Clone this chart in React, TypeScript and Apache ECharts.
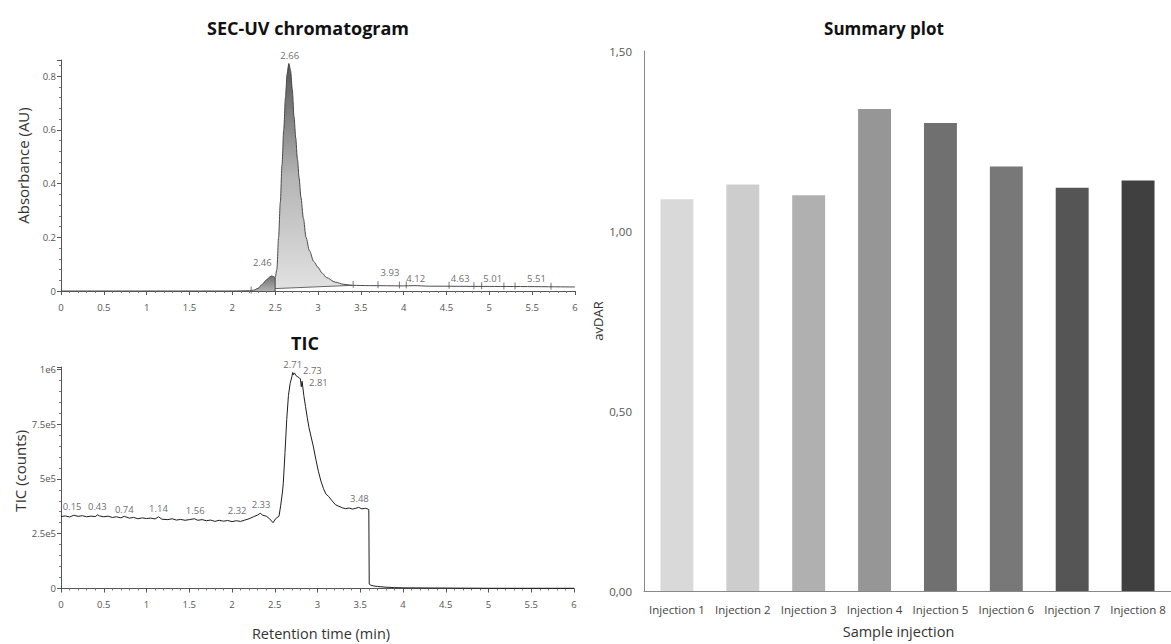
import React, { useEffect, useRef } from "react";
import * as echarts from "echarts";

// ---------- SEC-UV chromatogram ----------
const SEC_TIME = [0, 1, 2, 2.2, 2.25, 2.3, 2.35, 2.4, 2.44, 2.46, 2.48, 2.5, 2.52, 2.54, 2.56, 2.58, 2.6, 2.62, 2.64, 2.66, 2.68, 2.7, 2.72, 2.74, 2.76, 2.78, 2.8, 2.83, 2.86, 2.9, 2.95, 3.0, 3.05, 3.1, 3.2, 3.3, 3.4, 3.6, 4.0, 4.12, 4.3, 5.0, 6.0];
const SEC_ABS = [0, 0, 0, 0.001, 0.003, 0.01, 0.025, 0.042, 0.053, 0.056, 0.054, 0.05, 0.08, 0.2, 0.33, 0.47, 0.6, 0.72, 0.81, 0.847, 0.82, 0.75, 0.65, 0.57, 0.49, 0.42, 0.35, 0.27, 0.2, 0.15, 0.11, 0.088, 0.066, 0.05, 0.033, 0.025, 0.021, 0.02, 0.019, 0.02, 0.018, 0.017, 0.015];
const SEC_PEAK_BASELINE_T = [2.5, 3.4];
const SEC_PEAK_BASELINE_V = [0.009, 0.021];
const SEC_MARKER_T = [2.22, 2.52, 3.41, 3.7, 3.95, 4.03, 4.53, 4.82, 4.91, 5.17, 5.3, 5.72];
const SEC_MARKER_V = [0.004, 0.012, 0.024, 0.023, 0.022, 0.022, 0.021, 0.02, 0.02, 0.019, 0.019, 0.018];
const SEC_LABELS = ["2.66", "2.46", "3.93", "4.12", "4.63", "5.01", "5.51"];
const SEC_LABEL_T = [2.67, 2.35, 3.84, 4.14, 4.66, 5.04, 5.55];
const SEC_LABEL_V = [0.877, 0.105, 0.068, 0.045, 0.045, 0.045, 0.045];
const SEC_Y_TICK_LABELS = ["0", "0.2", "0.4", "0.6", "0.8"];

// ---------- TIC ----------
const TIC_TIME = [0, 0.05, 0.1, 0.15, 0.2, 0.25, 0.3, 0.35, 0.4, 0.43, 0.45, 0.5, 0.55, 0.6, 0.65, 0.7, 0.74, 0.8, 0.85, 0.9, 0.95, 1.0, 1.05, 1.1, 1.14, 1.18, 1.25, 1.3, 1.35, 1.4, 1.45, 1.5, 1.56, 1.6, 1.65, 1.7, 1.75, 1.8, 1.85, 1.9, 1.95, 2.0, 2.05, 2.1, 2.15, 2.2, 2.25, 2.3, 2.33, 2.36, 2.4, 2.44, 2.48, 2.51, 2.55, 2.57, 2.59, 2.6, 2.62, 2.64, 2.66, 2.68, 2.7, 2.71, 2.72, 2.73, 2.75, 2.77, 2.79, 2.8, 2.81, 2.82, 2.84, 2.86, 2.88, 2.9, 2.92, 2.95, 2.98, 3.01, 3.04, 3.07, 3.1, 3.13, 3.17, 3.21, 3.25, 3.29, 3.33, 3.37, 3.41, 3.45, 3.48, 3.52, 3.56, 3.59, 3.6, 3.605, 3.62, 3.65, 3.7, 3.8, 3.9, 4.0, 4.5, 5.0, 6.0];
const TIC_COUNTS_K = [328, 331, 326, 334, 329, 332, 327, 330, 328, 336, 331, 327, 330, 324, 327, 322, 329, 321, 324, 318, 322, 319, 321, 317, 327, 316, 314, 318, 312, 315, 311, 314, 318, 311, 314, 309, 312, 306, 311, 307, 310, 305, 309, 306, 312, 318, 327, 335, 343, 334, 330, 318, 300, 318, 330, 380, 440, 480, 620, 770, 880, 935, 965, 985, 975, 983, 970, 965, 960, 955, 920, 945, 880, 830, 780, 735, 700, 650, 590, 535, 490, 455, 430, 420, 400, 382, 375, 368, 364, 367, 362, 366, 370, 363, 366, 362, 360, 20, 16, 12, 9, 6, 4, 3, 2, 1, 1];
const TIC_LABELS = ["0.15", "0.43", "0.74", "1.14", "1.56", "2.32", "2.33", "2.71", "2.73", "2.81", "3.48"];
const TIC_LABEL_T = [0.13, 0.425, 0.74, 1.14, 1.57, 2.06, 2.34, 2.71, 2.94, 3.01, 3.49];
const TIC_LABEL_K = [372, 372, 360, 365, 355, 355, 385, 1023, 992, 939, 410];
const TIC_Y_TICK_LABELS = ["0", "2.5e5", "5e5", "7.5e5", "1e6"];

// ---------- Summary plot ----------
const INJECTIONS = ["Injection 1", "Injection 2", "Injection 3", "Injection 4", "Injection 5", "Injection 6", "Injection 7", "Injection 8"];
const AVDAR = [1.088, 1.129, 1.099, 1.339, 1.3, 1.179, 1.12, 1.14];
const BAR_COLORS = ["#d9d9d9", "#cdcdcd", "#b0b0b0", "#969696", "#707070", "#787878", "#555555", "#404040"];

const FONT = "'Open Sans', 'Noto Sans', sans-serif";

export default function App() {
  const ref = useRef<HTMLDivElement>(null);

  useEffect(() => {
    if (!ref.current) return;
    const chart = echarts.init(ref.current, undefined, { renderer: "svg" });

    const secData = SEC_TIME.map((t, i) => [t, SEC_ABS[i]]);
    const smallPeak = secData.filter((p) => p[0] >= 2.25 && p[0] <= 2.5);
    const mainPeak = secData.filter((p) => p[0] >= 2.5 && p[0] <= 3.4);
    const peakBase = SEC_PEAK_BASELINE_T.map((t, i) => [t, SEC_PEAK_BASELINE_V[i]]);
    const ticData = TIC_TIME.map((t, i) => [t, TIC_COUNTS_K[i] * 1000]);

    const tickLabel = { fontFamily: FONT, fontSize: 9.5, color: "#555" };
    const axisLineStyle = { lineStyle: { color: "#555", width: 1 } };

    const option: any = {
      animation: false,
      backgroundColor: "#fff",
      textStyle: { fontFamily: FONT },
      title: [
        { text: "SEC-UV chromatogram", left: 303, top: 14, textAlign: "center", textStyle: { fontFamily: FONT, fontSize: 18, fontWeight: "bold", color: "#111" } },
        { text: "TIC", left: 300, top: 329, textAlign: "center", textStyle: { fontFamily: FONT, fontSize: 18, fontWeight: "bold", color: "#111" } },
        { text: "Summary plot", left: 879, top: 15, textAlign: "center", textStyle: { fontFamily: FONT, fontSize: 17, fontWeight: "bold", color: "#111" } },
      ],
      grid: [
        { left: 61, top: 60, width: 514, height: 231 },
        { left: 61, top: 367, width: 513, height: 221.5 },
        { left: 644, top: 51, width: 529, height: 542 },
      ],
      xAxis: [
        {
          gridIndex: 0, type: "value", min: 0, max: 6, interval: 0.5, offset: 6,
          axisLine: axisLineStyle, axisTick: { show: true, length: 4, lineStyle: { color: "#555" } },
          minorTick: { show: true, splitNumber: 5, length: 2, lineStyle: { color: "#777" } },
          axisLabel: { ...tickLabel, margin: 5 }, splitLine: { show: false },
        },
        {
          gridIndex: 1, type: "value", min: 0, max: 6, interval: 0.5, offset: 6,
          axisLine: axisLineStyle, axisTick: { show: true, length: 4, lineStyle: { color: "#555" } },
          minorTick: { show: true, splitNumber: 5, length: 2, lineStyle: { color: "#777" } },
          axisLabel: { ...tickLabel, margin: 5 }, splitLine: { show: false },
          name: "Retention time (min)", nameLocation: "middle", nameGap: 31,
          nameTextStyle: { fontFamily: FONT, fontSize: 14.5, color: "#333", padding: [0, 0, 0, 7] },
        },
        {
          gridIndex: 2, type: "category", data: INJECTIONS,
          axisLine: { lineStyle: { color: "#888", width: 1 } }, axisTick: { show: false },
          axisLabel: { fontFamily: FONT, fontSize: 11.5, color: "#444", margin: 12, interval: 0 },
          name: "Sample injection", nameLocation: "middle", nameGap: 33,
          nameTextStyle: { fontFamily: FONT, fontSize: 14.5, color: "#333", padding: [0, 18, 0, 0] },
        },
      ],
      yAxis: [
        {
          gridIndex: 0, type: "value", min: 0, max: 0.86, interval: 0.2,
          axisLine: { show: true, ...axisLineStyle }, axisTick: { show: true, length: 4, lineStyle: { color: "#555" } },
          minorTick: { show: true, splitNumber: 5, length: 2, lineStyle: { color: "#777" } },
          axisLabel: { ...tickLabel, margin: 5, showMaxLabel: false, formatter: (_v: number, i: number) => SEC_Y_TICK_LABELS[i] ?? "" },
          splitLine: { show: false },
          name: "Absorbance (AU)", nameLocation: "middle", nameGap: 31,
          nameTextStyle: { fontFamily: FONT, fontSize: 15, color: "#333", padding: [0, 0, 0, 20] },
        },
        {
          gridIndex: 1, type: "value", min: 0, max: 1010000, interval: 250000,
          axisLine: { show: true, ...axisLineStyle }, axisTick: { show: true, length: 4, lineStyle: { color: "#555" } },
          minorTick: { show: true, splitNumber: 5, length: 2, lineStyle: { color: "#777" } },
          axisLabel: { ...tickLabel, margin: 5, showMaxLabel: false, formatter: (_v: number, i: number) => TIC_Y_TICK_LABELS[i] ?? "" },
          splitLine: { show: false },
          name: "TIC (counts)", nameLocation: "middle", nameGap: 34,
          nameTextStyle: { fontFamily: FONT, fontSize: 15, color: "#333", padding: [0, 0, 0, 14] },
        },
        {
          gridIndex: 2, type: "value", min: 0, max: 1.5, interval: 0.5,
          axisLine: { show: true, lineStyle: { color: "#888", width: 1 } }, axisTick: { show: false },
          axisLabel: { fontFamily: FONT, fontSize: 11.5, color: "#555", margin: 12, formatter: (v: number) => v.toFixed(2).replace(".", ",") },
          splitLine: { show: false },
          name: "avDAR", nameLocation: "middle", nameGap: 40,
          nameTextStyle: { fontFamily: FONT, fontSize: 13, color: "#333" },
        },
      ],
      series: [
        {
          type: "line", xAxisIndex: 0, yAxisIndex: 0, data: smallPeak, showSymbol: false, smooth: 0.3,
          lineStyle: { width: 0 },
          areaStyle: {
            opacity: 1,
            color: new echarts.graphic.LinearGradient(0, 0, 0, 1, [
              { offset: 0, color: "#707070" },
              { offset: 1, color: "#b0b0b0" },
            ]),
          },
          silent: true,
        },
        {
          type: "line", xAxisIndex: 0, yAxisIndex: 0, data: mainPeak, showSymbol: false, smooth: 0.3,
          lineStyle: { width: 0 },
          areaStyle: {
            opacity: 1,
            color: new echarts.graphic.LinearGradient(0, 0, 0, 1, [
              { offset: 0, color: "#555555" },
              { offset: 0.5, color: "#b5b5b5" },
              { offset: 1, color: "#e2e2e2" },
            ]),
          },
          silent: true,
        },
        {
          type: "line", xAxisIndex: 0, yAxisIndex: 0, data: peakBase, showSymbol: false,
          lineStyle: { width: 1, color: "#666" }, areaStyle: { color: "#ffffff", opacity: 1 }, silent: true,
        },
        {
          type: "line", xAxisIndex: 0, yAxisIndex: 0, data: [[2.5, 0], [2.5, 0.05]], showSymbol: false,
          lineStyle: { width: 1, color: "#444" }, silent: true,
        },
        {
          type: "line", xAxisIndex: 0, yAxisIndex: 0, data: secData, showSymbol: false, smooth: 0.3, smoothMonotone: "x",
          lineStyle: { width: 1, color: "#4a4a4a" }, silent: true,
        },
        {
          type: "scatter", xAxisIndex: 0, yAxisIndex: 0, silent: true,
          data: SEC_MARKER_T.map((t, i) => [t, SEC_MARKER_V[i]]),
          symbol: "rect", symbolSize: [1, 7], itemStyle: { color: "#555" },
        },
        {
          type: "scatter", xAxisIndex: 0, yAxisIndex: 0, silent: true, clip: false, symbolSize: 0,
          data: SEC_LABELS.map((n, i) => ({ name: n, value: [SEC_LABEL_T[i], SEC_LABEL_V[i]] })),
          label: { show: true, position: "inside", formatter: "{b}", fontFamily: FONT, fontSize: 9.5, color: "#444" },
        },
        {
          type: "line", xAxisIndex: 1, yAxisIndex: 1, data: ticData, showSymbol: false,
          lineStyle: { width: 1, color: "#1e1e1e" }, silent: true,
        },
        {
          type: "scatter", xAxisIndex: 1, yAxisIndex: 1, silent: true, clip: false, symbolSize: 0,
          data: TIC_LABELS.map((n, i) => ({ name: n, value: [TIC_LABEL_T[i], TIC_LABEL_K[i] * 1000] })),
          label: { show: true, position: "inside", formatter: "{b}", fontFamily: FONT, fontSize: 9.5, color: "#444" },
        },
        {
          type: "bar", xAxisIndex: 2, yAxisIndex: 2, barWidth: "50%", silent: true,
          data: AVDAR.map((v, i) => ({ value: v, itemStyle: { color: BAR_COLORS[i] } })),
        },
      ],
    };

    chart.setOption(option);
    return () => chart.dispose();
  }, []);

  return (
    <div
      ref={ref}
      style={{ position: "fixed", left: 0, top: 0, width: 1171, height: 644, background: "#fff" }}
    />
  );
}
